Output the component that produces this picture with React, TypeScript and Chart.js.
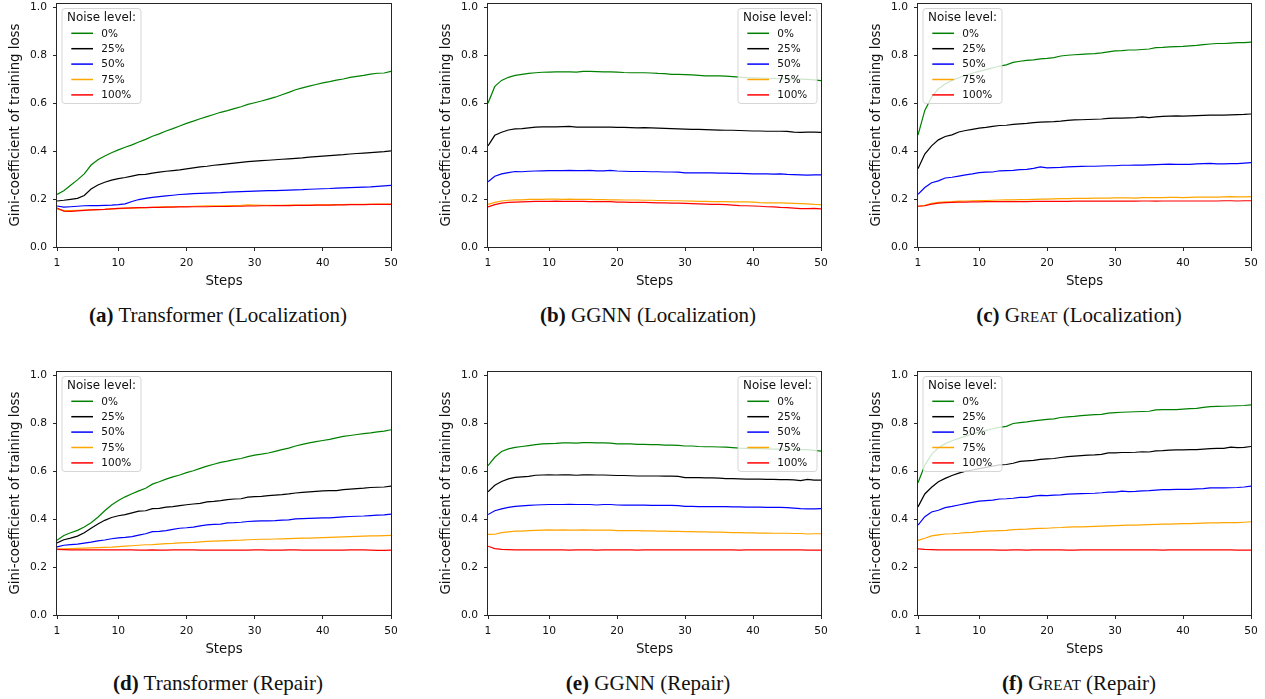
import React, { useEffect, useRef } from "react";
import { Chart, registerables } from "chart.js";

Chart.register(...registerables);

// ---------- data ----------
const steps = [
  1, 2, 3, 4, 5, 6, 7, 8, 9, 10, 11, 12, 13, 14, 15, 16, 17, 18, 19, 20, 21, 22, 23, 24, 25,
  26, 27, 28, 29, 30, 31, 32, 33, 34, 35, 36, 37, 38, 39, 40, 41, 42, 43, 44, 45, 46, 47, 48, 49, 50,
];
const noiseLabels = ["0%", "25%", "50%", "75%", "100%"];
const noiseColors = ["#008000", "#000000", "#0000ff", "#ffa500", "#ff0000"];
const xTickValues = [1, 10, 20, 30, 40, 50];
const yTickValues = [0, 0.2, 0.4, 0.6, 0.8, 1.0];
const yAxisTitle = "Gini-coefficient of training loss";
const xAxisTitle = "Steps";
const legendTitle = "Noise level:";

// (a) Transformer (Localization)
const transLoc0 = [
  0.219, 0.235, 0.258, 0.280, 0.305, 0.342, 0.364, 0.380, 0.393, 0.405,
  0.416, 0.426, 0.438, 0.449, 0.462, 0.472, 0.484, 0.494, 0.505, 0.516,
  0.525, 0.535, 0.544, 0.553, 0.562, 0.569, 0.577, 0.585, 0.595, 0.602,
  0.609, 0.617, 0.625, 0.635, 0.645, 0.656, 0.664, 0.671, 0.678, 0.685,
  0.690, 0.696, 0.701, 0.708, 0.712, 0.716, 0.721, 0.725, 0.726, 0.733,
];
const transLoc25 = [
  0.192, 0.195, 0.199, 0.203, 0.215, 0.242, 0.259, 0.270, 0.279, 0.285,
  0.290, 0.296, 0.302, 0.303, 0.308, 0.312, 0.316, 0.319, 0.322, 0.326,
  0.330, 0.334, 0.337, 0.341, 0.344, 0.347, 0.350, 0.353, 0.356, 0.358,
  0.360, 0.362, 0.364, 0.366, 0.368, 0.370, 0.372, 0.375, 0.377, 0.379,
  0.381, 0.383, 0.385, 0.388, 0.390, 0.392, 0.394, 0.396, 0.398, 0.401,
];
const transLoc50 = [
  0.171, 0.166, 0.168, 0.170, 0.172, 0.173, 0.173, 0.174, 0.175, 0.177,
  0.180, 0.190, 0.198, 0.203, 0.207, 0.210, 0.213, 0.216, 0.219, 0.221,
  0.223, 0.224, 0.225, 0.226, 0.227, 0.229, 0.230, 0.231, 0.232, 0.233,
  0.234, 0.235, 0.235, 0.236, 0.237, 0.238, 0.239, 0.241, 0.242, 0.243,
  0.244, 0.246, 0.247, 0.248, 0.249, 0.250, 0.251, 0.253, 0.255, 0.257,
];
const transLoc75 = [
  0.158, 0.152, 0.152, 0.153, 0.154, 0.155, 0.156, 0.157, 0.159, 0.160,
  0.161, 0.162, 0.163, 0.164, 0.165, 0.166, 0.167, 0.168, 0.169, 0.169,
  0.170, 0.171, 0.172, 0.172, 0.172, 0.173, 0.173, 0.174, 0.176, 0.175,
  0.174, 0.174, 0.174, 0.174, 0.175, 0.175, 0.175, 0.175, 0.176, 0.176,
  0.176, 0.177, 0.177, 0.178, 0.178, 0.178, 0.178, 0.179, 0.179, 0.179,
];
const transLoc100 = [
  0.163, 0.150, 0.149, 0.151, 0.153, 0.155, 0.156, 0.157, 0.159, 0.161,
  0.162, 0.163, 0.164, 0.164, 0.165, 0.165, 0.166, 0.166, 0.167, 0.167,
  0.168, 0.168, 0.168, 0.169, 0.169, 0.169, 0.170, 0.170, 0.171, 0.171,
  0.172, 0.172, 0.173, 0.173, 0.173, 0.174, 0.174, 0.174, 0.175, 0.175,
  0.175, 0.176, 0.176, 0.177, 0.177, 0.177, 0.178, 0.178, 0.178, 0.178,
];

// (b) GGNN (Localization)
const ggnnLoc0 = [
  0.600, 0.670, 0.695, 0.708, 0.716, 0.720, 0.724, 0.727, 0.729, 0.730,
  0.731, 0.731, 0.731, 0.730, 0.733, 0.733, 0.732, 0.731, 0.731, 0.730,
  0.728, 0.727, 0.727, 0.727, 0.726, 0.724, 0.723, 0.720, 0.720, 0.719,
  0.718, 0.716, 0.714, 0.714, 0.714, 0.713, 0.711, 0.709, 0.707, 0.706,
  0.705, 0.704, 0.703, 0.702, 0.701, 0.700, 0.700, 0.699, 0.697, 0.694,
];
const ggnnLoc25 = [
  0.422, 0.466, 0.479, 0.488, 0.493, 0.494, 0.497, 0.500, 0.501, 0.501,
  0.501, 0.502, 0.503, 0.500, 0.500, 0.500, 0.500, 0.500, 0.500, 0.499,
  0.499, 0.498, 0.497, 0.498, 0.497, 0.496, 0.495, 0.494, 0.493, 0.492,
  0.491, 0.491, 0.490, 0.489, 0.488, 0.487, 0.487, 0.486, 0.485, 0.484,
  0.484, 0.483, 0.483, 0.483, 0.482, 0.479, 0.478, 0.479, 0.479, 0.478,
];
const ggnnLoc50 = [
  0.272, 0.295, 0.305, 0.310, 0.315, 0.314, 0.316, 0.317, 0.318, 0.319,
  0.319, 0.319, 0.320, 0.319, 0.319, 0.320, 0.318, 0.318, 0.320, 0.317,
  0.316, 0.315, 0.315, 0.315, 0.314, 0.314, 0.313, 0.313, 0.312, 0.309,
  0.309, 0.309, 0.309, 0.309, 0.308, 0.308, 0.307, 0.307, 0.306, 0.305,
  0.305, 0.305, 0.304, 0.305, 0.303, 0.302, 0.301, 0.300, 0.301, 0.301,
];
const ggnnLoc75 = [
  0.178, 0.186, 0.192, 0.195, 0.197, 0.197, 0.199, 0.199, 0.199, 0.200,
  0.200, 0.199, 0.200, 0.199, 0.199, 0.199, 0.198, 0.198, 0.197, 0.197,
  0.196, 0.196, 0.196, 0.195, 0.195, 0.194, 0.194, 0.193, 0.193, 0.192,
  0.191, 0.190, 0.190, 0.189, 0.189, 0.189, 0.188, 0.188, 0.188, 0.187,
  0.185, 0.184, 0.184, 0.184, 0.183, 0.182, 0.181, 0.180, 0.178, 0.177,
];
const ggnnLoc100 = [
  0.167, 0.177, 0.183, 0.186, 0.187, 0.188, 0.189, 0.190, 0.190, 0.190,
  0.191, 0.190, 0.190, 0.190, 0.190, 0.189, 0.189, 0.189, 0.189, 0.187,
  0.187, 0.186, 0.186, 0.186, 0.185, 0.184, 0.184, 0.183, 0.183, 0.182,
  0.181, 0.180, 0.179, 0.178, 0.178, 0.177, 0.175, 0.173, 0.172, 0.171,
  0.170, 0.168, 0.167, 0.165, 0.164, 0.162, 0.160, 0.160, 0.161, 0.159,
];

// (c) GREAT (Localization)
const greatLoc0 = [
  0.467, 0.570, 0.625, 0.660, 0.680, 0.695, 0.706, 0.716, 0.725, 0.733,
  0.740, 0.747, 0.755, 0.760, 0.770, 0.775, 0.779, 0.781, 0.785, 0.787,
  0.790, 0.797, 0.800, 0.802, 0.804, 0.806, 0.807, 0.810, 0.814, 0.818,
  0.819, 0.822, 0.822, 0.824, 0.826, 0.832, 0.833, 0.835, 0.836, 0.837,
  0.839, 0.841, 0.844, 0.847, 0.849, 0.849, 0.851, 0.853, 0.853, 0.855,
];
const greatLoc25 = [
  0.327, 0.388, 0.422, 0.447, 0.461, 0.468, 0.480, 0.486, 0.491, 0.496,
  0.499, 0.503, 0.507, 0.508, 0.512, 0.514, 0.516, 0.519, 0.521, 0.522,
  0.523, 0.525, 0.528, 0.530, 0.531, 0.532, 0.533, 0.534, 0.537, 0.538,
  0.538, 0.539, 0.540, 0.543, 0.540, 0.543, 0.545, 0.546, 0.547, 0.546,
  0.547, 0.548, 0.549, 0.550, 0.550, 0.550, 0.551, 0.552, 0.553, 0.555,
];
const greatLoc50 = [
  0.220, 0.248, 0.268, 0.276, 0.288, 0.291, 0.296, 0.301, 0.305, 0.310,
  0.312, 0.313, 0.318, 0.319, 0.320, 0.323, 0.324, 0.328, 0.334, 0.330,
  0.331, 0.332, 0.334, 0.335, 0.336, 0.337, 0.337, 0.338, 0.339, 0.339,
  0.341, 0.341, 0.342, 0.342, 0.343, 0.344, 0.345, 0.346, 0.345, 0.345,
  0.345, 0.347, 0.348, 0.349, 0.347, 0.347, 0.348, 0.348, 0.350, 0.352,
];
const greatLoc75 = [
  0.170, 0.174, 0.182, 0.186, 0.188, 0.189, 0.191, 0.192, 0.193, 0.194,
  0.194, 0.195, 0.196, 0.197, 0.197, 0.198, 0.198, 0.199, 0.200, 0.200,
  0.201, 0.202, 0.202, 0.203, 0.203, 0.203, 0.204, 0.204, 0.204, 0.205,
  0.205, 0.205, 0.204, 0.206, 0.206, 0.206, 0.206, 0.207, 0.207, 0.206,
  0.207, 0.208, 0.208, 0.208, 0.208, 0.209, 0.210, 0.209, 0.209, 0.210,
];
const greatLoc100 = [
  0.170, 0.172, 0.179, 0.183, 0.185, 0.186, 0.187, 0.187, 0.188, 0.188,
  0.189, 0.189, 0.189, 0.189, 0.189, 0.189, 0.189, 0.190, 0.190, 0.190,
  0.190, 0.190, 0.190, 0.191, 0.191, 0.191, 0.191, 0.191, 0.191, 0.191,
  0.192, 0.191, 0.191, 0.192, 0.192, 0.191, 0.192, 0.192, 0.192, 0.192,
  0.192, 0.192, 0.192, 0.192, 0.192, 0.193, 0.193, 0.192, 0.193, 0.193,
];

// (d) Transformer (Repair)
const transRep0 = [
  0.312, 0.332, 0.343, 0.353, 0.367, 0.385, 0.408, 0.435, 0.459, 0.478,
  0.493, 0.506, 0.518, 0.529, 0.546, 0.556, 0.567, 0.576, 0.584, 0.594,
  0.602, 0.612, 0.621, 0.629, 0.637, 0.642, 0.648, 0.653, 0.661, 0.667,
  0.671, 0.676, 0.683, 0.690, 0.696, 0.705, 0.712, 0.718, 0.723, 0.728,
  0.733, 0.739, 0.745, 0.749, 0.753, 0.757, 0.760, 0.764, 0.767, 0.773,
];
const transRep25 = [
  0.301, 0.314, 0.321, 0.329, 0.343, 0.362, 0.380, 0.395, 0.407, 0.414,
  0.419, 0.426, 0.433, 0.435, 0.444, 0.445, 0.450, 0.452, 0.456, 0.460,
  0.463, 0.466, 0.472, 0.474, 0.477, 0.481, 0.484, 0.485, 0.492, 0.494,
  0.495, 0.498, 0.500, 0.502, 0.505, 0.509, 0.512, 0.514, 0.516, 0.518,
  0.519, 0.519, 0.523, 0.525, 0.527, 0.529, 0.532, 0.533, 0.534, 0.538,
];
const transRep50 = [
  0.284, 0.291, 0.294, 0.296, 0.300, 0.304, 0.309, 0.313, 0.318, 0.322,
  0.324, 0.327, 0.333, 0.339, 0.348, 0.349, 0.352, 0.357, 0.362, 0.364,
  0.367, 0.372, 0.376, 0.378, 0.379, 0.384, 0.385, 0.387, 0.390, 0.392,
  0.393, 0.393, 0.394, 0.396, 0.397, 0.401, 0.402, 0.403, 0.404, 0.405,
  0.405, 0.407, 0.409, 0.411, 0.412, 0.413, 0.415, 0.417, 0.418, 0.421,
];
const transRep75 = [
  0.275, 0.276, 0.277, 0.278, 0.279, 0.280, 0.281, 0.282, 0.283, 0.285,
  0.287, 0.289, 0.291, 0.293, 0.294, 0.296, 0.298, 0.299, 0.301, 0.302,
  0.303, 0.305, 0.307, 0.308, 0.309, 0.310, 0.311, 0.312, 0.314, 0.315,
  0.316, 0.316, 0.317, 0.318, 0.319, 0.320, 0.321, 0.321, 0.322, 0.323,
  0.324, 0.325, 0.326, 0.327, 0.328, 0.329, 0.330, 0.330, 0.331, 0.332,
];
const transRep100 = [
  0.274, 0.273, 0.272, 0.272, 0.272, 0.272, 0.272, 0.272, 0.272, 0.272,
  0.272, 0.272, 0.271, 0.271, 0.272, 0.271, 0.271, 0.272, 0.272, 0.272,
  0.272, 0.271, 0.271, 0.271, 0.271, 0.271, 0.271, 0.271, 0.271, 0.272,
  0.272, 0.271, 0.271, 0.271, 0.272, 0.272, 0.271, 0.271, 0.271, 0.271,
  0.271, 0.271, 0.271, 0.272, 0.272, 0.272, 0.271, 0.270, 0.270, 0.271,
];

// (e) GGNN (Repair)
const ggnnRep0 = [
  0.623, 0.658, 0.682, 0.693, 0.699, 0.703, 0.707, 0.711, 0.714, 0.715,
  0.716, 0.718, 0.718, 0.717, 0.719, 0.719, 0.718, 0.718, 0.717, 0.714,
  0.714, 0.714, 0.712, 0.712, 0.711, 0.711, 0.709, 0.709, 0.708, 0.705,
  0.705, 0.703, 0.702, 0.702, 0.701, 0.700, 0.698, 0.696, 0.695, 0.694,
  0.694, 0.693, 0.692, 0.692, 0.692, 0.691, 0.690, 0.690, 0.687, 0.684,
];
const ggnnRep25 = [
  0.514, 0.541, 0.557, 0.568, 0.574, 0.576, 0.578, 0.583, 0.584, 0.585,
  0.584, 0.585, 0.585, 0.583, 0.585, 0.585, 0.584, 0.584, 0.583, 0.582,
  0.582, 0.581, 0.580, 0.580, 0.580, 0.580, 0.579, 0.579, 0.578, 0.573,
  0.573, 0.573, 0.572, 0.572, 0.571, 0.569, 0.569, 0.568, 0.567, 0.567,
  0.567, 0.566, 0.566, 0.565, 0.565, 0.564, 0.561, 0.566, 0.563, 0.563,
];
const ggnnRep50 = [
  0.419, 0.435, 0.443, 0.449, 0.453, 0.455, 0.457, 0.459, 0.460, 0.461,
  0.461, 0.461, 0.462, 0.461, 0.461, 0.461, 0.459, 0.461, 0.461, 0.459,
  0.458, 0.458, 0.458, 0.458, 0.457, 0.457, 0.457, 0.457, 0.456, 0.453,
  0.453, 0.452, 0.452, 0.452, 0.452, 0.452, 0.451, 0.451, 0.450, 0.450,
  0.450, 0.449, 0.449, 0.449, 0.448, 0.446, 0.444, 0.443, 0.443, 0.444,
];
const ggnnRep75 = [
  0.336, 0.337, 0.344, 0.347, 0.350, 0.350, 0.352, 0.353, 0.354, 0.355,
  0.354, 0.355, 0.354, 0.354, 0.355, 0.354, 0.354, 0.354, 0.354, 0.352,
  0.352, 0.352, 0.352, 0.351, 0.351, 0.350, 0.350, 0.349, 0.349, 0.348,
  0.348, 0.347, 0.347, 0.346, 0.346, 0.345, 0.344, 0.344, 0.343, 0.343,
  0.342, 0.342, 0.341, 0.341, 0.341, 0.340, 0.340, 0.338, 0.339, 0.339,
];
const ggnnRep100 = [
  0.287, 0.277, 0.274, 0.273, 0.272, 0.272, 0.272, 0.272, 0.272, 0.272,
  0.272, 0.272, 0.271, 0.272, 0.272, 0.272, 0.271, 0.272, 0.272, 0.272,
  0.272, 0.272, 0.271, 0.272, 0.272, 0.272, 0.272, 0.272, 0.272, 0.272,
  0.272, 0.272, 0.272, 0.272, 0.272, 0.272, 0.272, 0.271, 0.272, 0.272,
  0.272, 0.272, 0.272, 0.272, 0.272, 0.272, 0.272, 0.271, 0.271, 0.271,
];

// (f) GREAT (Repair)
const greatRep0 = [
  0.552, 0.625, 0.670, 0.698, 0.715, 0.727, 0.737, 0.746, 0.755, 0.763,
  0.770, 0.777, 0.783, 0.787, 0.799, 0.803, 0.806, 0.810, 0.813, 0.816,
  0.818, 0.824, 0.827, 0.829, 0.832, 0.834, 0.836, 0.837, 0.842, 0.844,
  0.846, 0.847, 0.848, 0.849, 0.850, 0.856, 0.857, 0.857, 0.857, 0.859,
  0.861, 0.862, 0.866, 0.869, 0.870, 0.871, 0.872, 0.873, 0.874, 0.877,
];
const greatRep25 = [
  0.451, 0.505, 0.533, 0.556, 0.570, 0.582, 0.592, 0.600, 0.605, 0.611,
  0.616, 0.621, 0.626, 0.628, 0.633, 0.641, 0.643, 0.645, 0.649, 0.651,
  0.653, 0.657, 0.661, 0.663, 0.665, 0.667, 0.668, 0.670, 0.676, 0.676,
  0.678, 0.678, 0.679, 0.681, 0.680, 0.685, 0.686, 0.688, 0.689, 0.689,
  0.690, 0.690, 0.692, 0.694, 0.695, 0.695, 0.700, 0.698, 0.699, 0.703,
];
const greatRep50 = [
  0.375, 0.410, 0.430, 0.437, 0.448, 0.453, 0.459, 0.465, 0.470, 0.475,
  0.477, 0.479, 0.484, 0.485, 0.487, 0.491, 0.491, 0.496, 0.499, 0.498,
  0.500, 0.501, 0.504, 0.505, 0.506, 0.507, 0.508, 0.510, 0.513, 0.513,
  0.517, 0.515, 0.516, 0.518, 0.519, 0.521, 0.523, 0.523, 0.524, 0.524,
  0.524, 0.526, 0.527, 0.530, 0.530, 0.530, 0.531, 0.532, 0.534, 0.538,
];
const greatRep75 = [
  0.311, 0.320, 0.330, 0.334, 0.338, 0.339, 0.341, 0.344, 0.345, 0.348,
  0.350, 0.351, 0.352, 0.353, 0.356, 0.357, 0.358, 0.360, 0.361, 0.362,
  0.364, 0.365, 0.367, 0.368, 0.368, 0.369, 0.370, 0.371, 0.372, 0.373,
  0.374, 0.375, 0.375, 0.376, 0.377, 0.378, 0.379, 0.379, 0.380, 0.381,
  0.381, 0.382, 0.383, 0.384, 0.384, 0.385, 0.386, 0.385, 0.387, 0.389,
];
const greatRep100 = [
  0.276, 0.274, 0.273, 0.272, 0.272, 0.272, 0.272, 0.272, 0.272, 0.272,
  0.272, 0.272, 0.271, 0.271, 0.272, 0.272, 0.271, 0.272, 0.272, 0.272,
  0.272, 0.272, 0.271, 0.271, 0.272, 0.272, 0.272, 0.272, 0.272, 0.272,
  0.272, 0.272, 0.272, 0.272, 0.272, 0.272, 0.271, 0.272, 0.272, 0.272,
  0.272, 0.272, 0.272, 0.272, 0.272, 0.272, 0.272, 0.271, 0.271, 0.271,
];

// ---------- layout ----------
const PAD_TOP = 16;
const PAD_RIGHT = 20;
const Y_AXIS_W = 57;
const X_AXIS_H = 45;
const PLOT_H = 244;
const Y_MAX = 1.018;
const FONT = "'DejaVu Sans', sans-serif";
const TEXT = "#111";

type PanelSpec = {
  key: string;
  series: number[][];
  legendRight: boolean;
  plotLeft: number;
  plotRight: number;
  plotTop: number;
  tag: string;
  model: string;
  smallCaps: boolean;
  task: string;
  captionX: number;
  captionTop: number;
};

const panels: PanelSpec[] = [
  { key: "a", series: [transLoc0, transLoc25, transLoc50, transLoc75, transLoc100], legendRight: false, plotLeft: 57, plotRight: 391, plotTop: 3, tag: "(a)", model: "Transformer", smallCaps: false, task: "(Localization)", captionX: 218, captionTop: 303 },
  { key: "b", series: [ggnnLoc0, ggnnLoc25, ggnnLoc50, ggnnLoc75, ggnnLoc100], legendRight: true, plotLeft: 488, plotRight: 821, plotTop: 3, tag: "(b)", model: "GGNN", smallCaps: false, task: "(Localization)", captionX: 648, captionTop: 303 },
  { key: "c", series: [greatLoc0, greatLoc25, greatLoc50, greatLoc75, greatLoc100], legendRight: false, plotLeft: 918, plotRight: 1251, plotTop: 3, tag: "(c)", model: "Great", smallCaps: true, task: "(Localization)", captionX: 1079, captionTop: 303 },
  { key: "d", series: [transRep0, transRep25, transRep50, transRep75, transRep100], legendRight: false, plotLeft: 57, plotRight: 391, plotTop: 371, tag: "(d)", model: "Transformer", smallCaps: false, task: "(Repair)", captionX: 218, captionTop: 671 },
  { key: "e", series: [ggnnRep0, ggnnRep25, ggnnRep50, ggnnRep75, ggnnRep100], legendRight: true, plotLeft: 488, plotRight: 821, plotTop: 371, tag: "(e)", model: "GGNN", smallCaps: false, task: "(Repair)", captionX: 648, captionTop: 671 },
  { key: "f", series: [greatRep0, greatRep25, greatRep50, greatRep75, greatRep100], legendRight: false, plotLeft: 918, plotRight: 1251, plotTop: 371, tag: "(f)", model: "Great", smallCaps: true, task: "(Repair)", captionX: 1079, captionTop: 671 },
];

const frameLegendPlugin = {
  id: "frameLegend",
  afterDatasetsDraw(chart: any, _args: any, opts: any) {
    const { ctx, chartArea: a } = chart;
    ctx.save();
    // matplotlib-like full frame
    ctx.strokeStyle = "#262626";
    ctx.lineWidth = 1;
    const l = Math.round(a.left) - 0.5;
    const t = Math.round(a.top) + 0.5;
    const r = Math.round(a.right) + 0.5;
    const b = Math.round(a.bottom) + 0.5;
    ctx.strokeRect(l, t, r - l, b - t);

    // legend box
    const lw = 79;
    const lh = 95;
    const bx = opts.right ? a.right - 4 - lw : a.left + 5;
    const by = a.top + 5.5;
    ctx.beginPath();
    if ((ctx as any).roundRect) {
      (ctx as any).roundRect(bx, by, lw, lh, 3);
    } else {
      ctx.rect(bx, by, lw, lh);
    }
    ctx.fillStyle = "rgba(255,255,255,0.8)";
    ctx.fill();
    ctx.strokeStyle = "rgba(204,204,204,0.8)";
    ctx.lineWidth = 1;
    ctx.stroke();

    ctx.fillStyle = TEXT;
    ctx.textBaseline = "middle";
    ctx.textAlign = "left";
    ctx.font = `11.9px ${FONT}`;
    ctx.fillText(legendTitle, bx + 5, by + 9);
    ctx.font = `10.5px ${FONT}`;
    for (let i = 0; i < noiseLabels.length; i++) {
      const y = by + 24.8 + 15.4 * i;
      ctx.beginPath();
      ctx.strokeStyle = noiseColors[i];
      ctx.lineWidth = 1.5;
      ctx.moveTo(bx + 9.3, y);
      ctx.lineTo(bx + 31, y);
      ctx.stroke();
      ctx.fillStyle = TEXT;
      ctx.fillText(noiseLabels[i], bx + 39.3, y + 0.5);
    }
    ctx.restore();
  },
};

function Panel({ spec }: { spec: PanelSpec }) {
  const ref = useRef<HTMLCanvasElement | null>(null);
  const plotW = spec.plotRight - spec.plotLeft;
  const cw = Y_AXIS_W + plotW + PAD_RIGHT;
  const ch = PAD_TOP + PLOT_H + X_AXIS_H;

  useEffect(() => {
    if (!ref.current) return;
    const tickGrid = {
      display: true,
      drawOnChartArea: false,
      drawTicks: true,
      tickLength: 4,
      tickColor: "#262626",
      tickWidth: 1,
    };
    const chart = new Chart(ref.current, {
      type: "line",
      data: {
        datasets: spec.series.map((ys, i) => ({
          label: noiseLabels[i],
          data: steps.map((s, j) => ({ x: s, y: ys[j] })),
          borderColor: noiseColors[i],
          backgroundColor: noiseColors[i],
          borderWidth: 1.2,
          pointRadius: 0,
          tension: 0,
          fill: false,
          order: noiseLabels.length - i,
        })),
      },
      options: {
        animation: false,
        responsive: false,
        devicePixelRatio: 1,
        events: [],
        layout: { padding: { top: PAD_TOP, right: PAD_RIGHT, left: 0, bottom: 0 } },
        plugins: {
          legend: { display: false },
          tooltip: { enabled: false },
          frameLegend: { right: spec.legendRight },
        } as any,
        scales: {
          x: {
            type: "linear",
            min: 1,
            max: 50,
            afterBuildTicks: (s: any) => {
              s.ticks = xTickValues.map((v) => ({ value: v }));
            },
            afterFit: (s: any) => {
              s.height = X_AXIS_H;
            },
            grid: tickGrid,
            border: { display: false },
            ticks: {
              autoSkip: false,
              maxRotation: 0,
              padding: 6,
              color: TEXT,
              font: { family: FONT, size: 10.7 },
              callback: (v: any) => String(v),
            },
            title: {
              display: true,
              text: xAxisTitle,
              color: TEXT,
              font: { family: FONT, size: 13.3 },
              padding: { top: 0, bottom: 2 },
            },
          },
          y: {
            type: "linear",
            min: 0,
            max: Y_MAX,
            afterBuildTicks: (s: any) => {
              s.ticks = yTickValues.map((v) => ({ value: v }));
            },
            afterFit: (s: any) => {
              s.width = Y_AXIS_W;
            },
            grid: tickGrid,
            border: { display: false },
            ticks: {
              autoSkip: false,
              padding: 6,
              color: TEXT,
              font: { family: FONT, size: 10.7 },
              callback: (v: any) => Number(v).toFixed(1),
            },
            title: {
              display: true,
              text: yAxisTitle,
              color: TEXT,
              font: { family: FONT, size: 13.3 },
              padding: { top: 8, bottom: 0 },
            },
          },
        },
      } as any,
      plugins: [frameLegendPlugin],
    });
    return () => chart.destroy();
  }, []);

  return (
    <canvas
      ref={ref}
      width={cw}
      height={ch}
      style={{
        position: "absolute",
        left: spec.plotLeft - Y_AXIS_W,
        top: spec.plotTop - PAD_TOP,
        width: cw,
        height: ch,
      }}
    />
  );
}

function Caption({ spec }: { spec: PanelSpec }) {
  return (
    <div
      style={{
        position: "absolute",
        left: spec.captionX - 200,
        top: spec.captionTop,
        width: 400,
        textAlign: "center",
        fontFamily: "'Liberation Serif', 'Times New Roman', serif",
        fontSize: 21,
        lineHeight: "24px",
        color: "#111",
        whiteSpace: "nowrap",
      }}
    >
      <b>{spec.tag}</b>{" "}
      <span style={{ fontVariant: spec.smallCaps ? "small-caps" : "normal" }}>{spec.model}</span>{" "}
      {spec.task}
    </div>
  );
}

export default function App() {
  return (
    <div
      style={{
        position: "absolute",
        left: 0,
        top: 0,
        width: 1265,
        height: 699,
        background: "#ffffff",
        overflow: "hidden",
      }}
    >
      {panels.map((p) => (
        <Panel key={p.key} spec={p} />
      ))}
      {panels.map((p) => (
        <Caption key={"cap" + p.key} spec={p} />
      ))}
    </div>
  );
}
